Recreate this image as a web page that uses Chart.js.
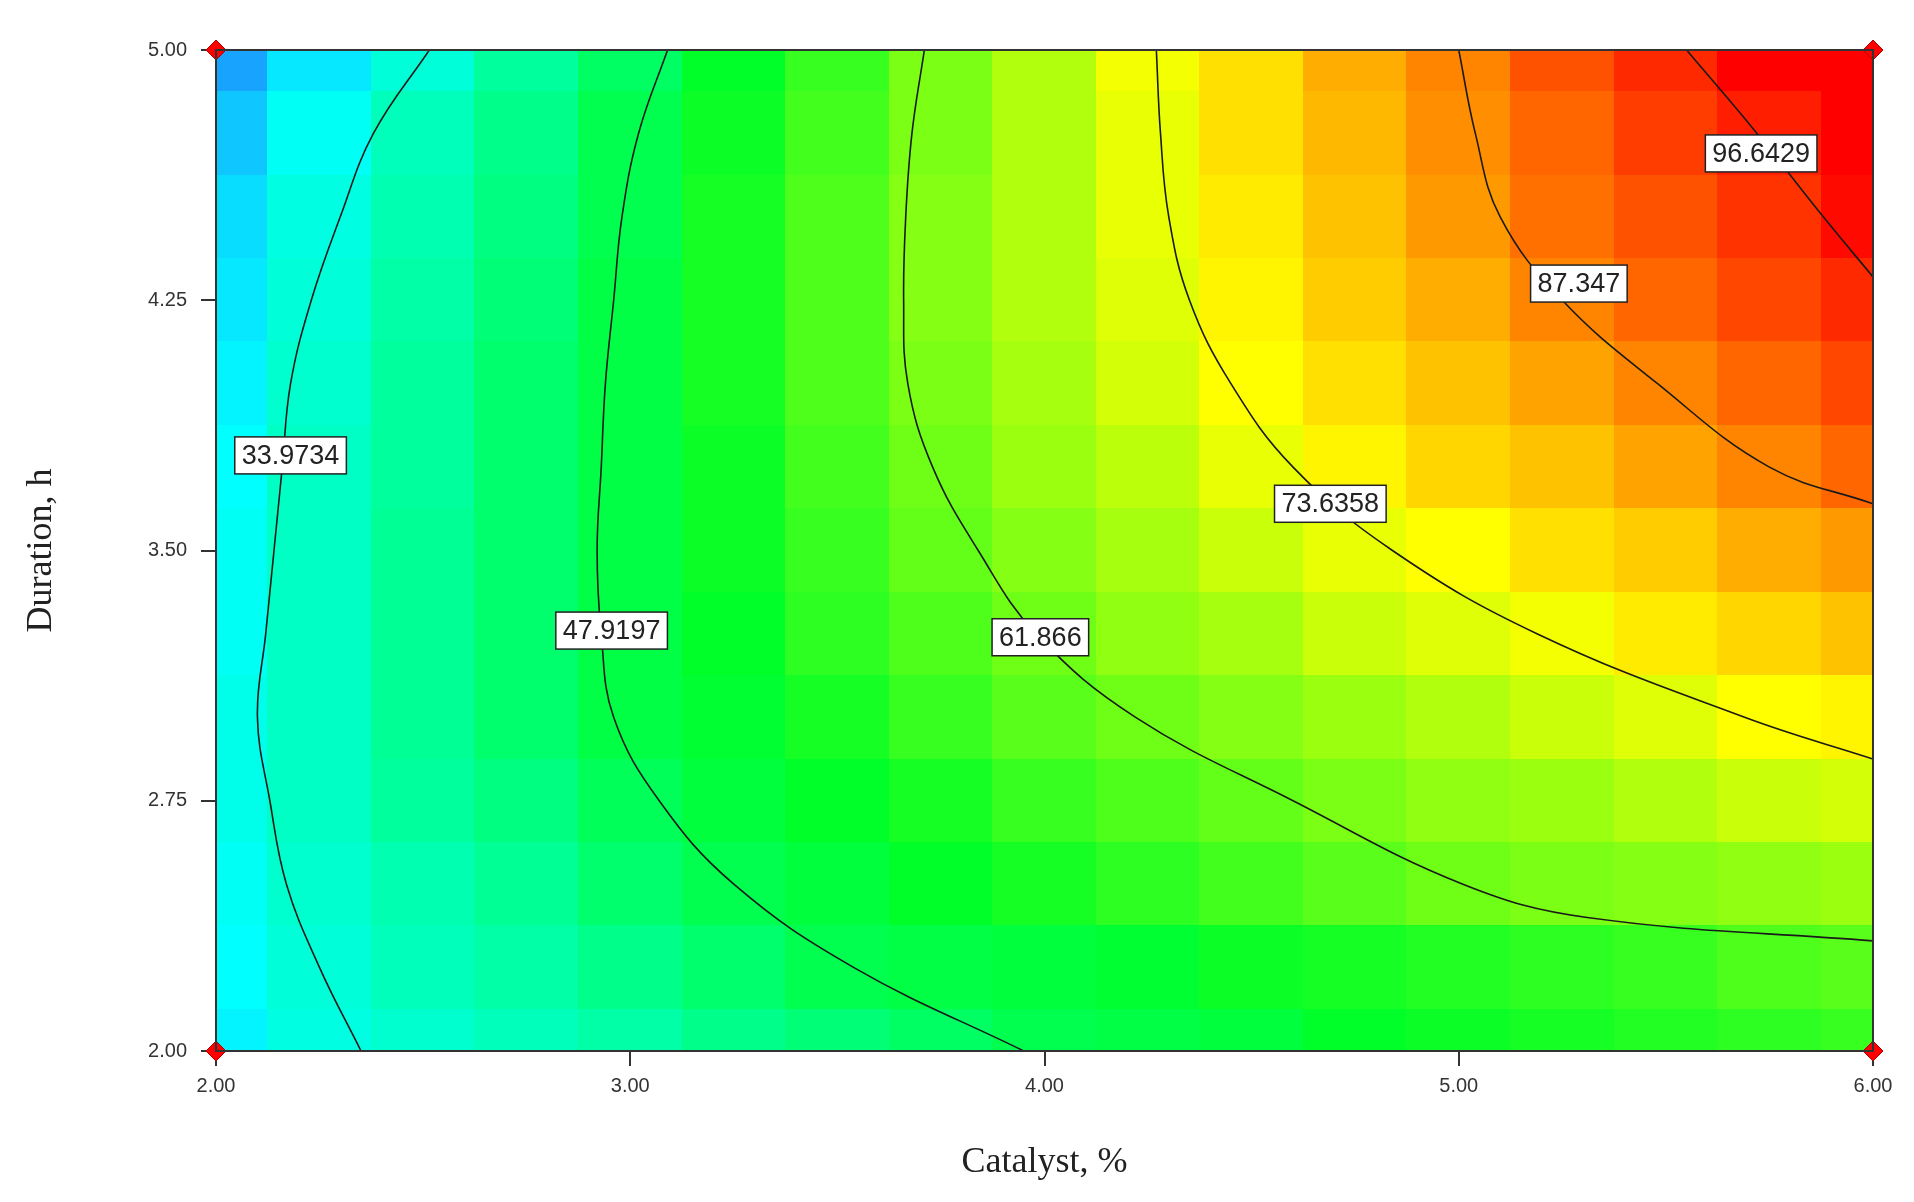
<!DOCTYPE html>
<html>
<head>
<meta charset="utf-8">
<script src="https://cdn.jsdelivr.net/npm/chart.js@4.4.1/dist/chart.umd.min.js"></script>
<style>
  html, body { margin: 0; padding: 0; background: #fff; }
  #wrap { width: 1914px; height: 1202px; }
</style>
</head>
<body>
<div id="wrap"><canvas id="grafico"></canvas></div>
<script>
// grid of response values (rows from Duration 5.00 down to 2.00)
const catalystGrid = [2, 2.25, 2.5, 2.75, 3, 3.25, 3.5, 3.75, 4, 4.25, 4.5, 4.75, 5, 5.25, 5.5, 5.75, 6];
const durationGrid = [5, 4.75, 4.5, 4.25, 4, 3.75, 3.5, 3.25, 3, 2.75, 2.5, 2.25, 2];
const response = [
  [22, 28, 34, 40, 46, 52, 57, 63, 68, 74, 78, 83, 87, 92, 96, 100, 104],
  [25, 31, 37, 42, 48, 53, 58, 63, 68, 73, 78, 82, 86, 90, 94, 97, 101],
  [27, 33, 38, 43, 48, 54, 59, 64, 68, 73, 77, 81, 85, 89, 92, 95, 99],
  [28, 34, 39, 44, 49, 54, 59, 64, 68, 72, 76, 80, 83, 87, 90, 93, 96],
  [29, 35, 40, 45, 49, 54, 59, 63, 67, 71, 75, 78, 81, 84, 87, 90, 93],
  [30, 36, 40, 45, 49, 53, 58, 62, 66, 69, 73, 76, 79, 81, 84, 87, 90],
  [31, 36, 41, 45, 49, 53, 57, 61, 64, 67, 70, 73, 75, 78, 80, 83, 85],
  [31, 36, 41, 45, 49, 52, 56, 59, 62, 65, 67, 70, 72, 74, 77, 79, 81],
  [32, 36, 41, 45, 49, 51, 54, 57, 60, 62, 64, 66, 68, 70, 72, 75, 76],
  [32, 36, 40, 43, 47, 50, 52, 54, 57, 59, 61, 63, 65, 66, 68, 70, 71],
  [31, 35, 38, 41, 45, 48, 50, 52, 54, 56, 58, 60, 62, 63, 64, 65, 66],
  [30, 34, 37, 39, 42, 45, 48, 49, 50, 51, 53, 54, 55, 56, 57, 59, 60],
  [29, 33, 35, 37, 39, 42, 44, 46, 48, 49, 50, 52, 53, 54, 55, 56, 57]
];

// contour lines (catalyst, duration)
const contourLevels = ["33.9734", "47.9197", "61.866", "73.6358", "87.347", "96.6429"];
const contourPaths = [
  [[2.515, 5], [2.38, 4.75], [2.30, 4.5], [2.23, 4.25], [2.18, 4], [2.16, 3.75], [2.14, 3.5], [2.12, 3.25], [2.10, 3], [2.13, 2.75], [2.17, 2.5], [2.25, 2.25], [2.35, 2]],
  [[3.09, 5], [3.02, 4.75], [2.98, 4.5], [2.96, 4.25], [2.94, 4], [2.93, 3.75], [2.92, 3.5], [2.93, 3.25], [2.96, 3], [3.07, 2.75], [3.25, 2.5], [3.54, 2.25], [3.95, 2]],
  [[3.71, 5], [3.68, 4.75], [3.665, 4.5], [3.66, 4.25], [3.67, 4], [3.73, 3.75], [3.84, 3.5], [3.98, 3.25], [4.22, 3], [4.60, 2.75], [5.01, 2.5], [5.31, 2.4], [6, 2.33]],
  [[4.27, 5], [4.28, 4.75], [4.30, 4.5], [4.35, 4.25], [4.45, 4], [4.60, 3.75], [4.84, 3.5], [5.19, 3.25], [5.69, 3], [6, 2.875]],
  [[5.00, 5], [5.04, 4.75], [5.10, 4.5], [5.25, 4.25], [5.48, 4], [5.75, 3.75], [6, 3.64]],
  [[5.55, 5], [5.72, 4.75], [5.88, 4.5], [6, 4.32]]
];
const labelPos = [[2.18, 3.785], [2.955, 3.26], [3.99, 3.24], [4.69, 3.64], [5.29, 4.30], [5.73, 4.69]];

const xTicks = [2, 3, 4, 5, 6];
const yTicks = [2, 2.75, 3.5, 4.25, 5];
const designPoints = [[2, 2], [2, 5], [6, 2], [6, 5]];

const colorStops = [
  [20, [30, 140, 255]],
  [30, [0, 255, 255]],
  [52, [0, 255, 40]],
  [75, [255, 255, 0]],
  [100, [255, 0, 0]]
];

function corDoValor(v) {
  if (v <= colorStops[0][0]) return `rgb(${colorStops[0][1].join(",")})`;
  for (let i = 1; i < colorStops.length; i++) {
    const [v1, c1] = colorStops[i];
    const [v0, c0] = colorStops[i - 1];
    if (v <= v1) {
      const t = (v - v0) / (v1 - v0);
      const c = c0.map((a, k) => Math.round(a + (c1[k] - a) * t));
      return `rgb(${c.join(",")})`;
    }
  }
  return `rgb(${colorStops[colorStops.length - 1][1].join(",")})`;
}

const mapaCores = {
  id: "mapaCores",
  beforeDatasetsDraw(chart) {
    const { ctx, scales: { x, y }, chartArea: a } = chart;
    ctx.save();
    ctx.beginPath();
    ctx.rect(a.left, a.top, a.right - a.left, a.bottom - a.top);
    ctx.clip();
    durationGrid.forEach((d, j) => {
      catalystGrid.forEach((c, i) => {
        const x0 = x.getPixelForValue(c - 0.125), x1 = x.getPixelForValue(c + 0.125);
        const y0 = y.getPixelForValue(d + 0.125), y1 = y.getPixelForValue(d - 0.125);
        ctx.fillStyle = corDoValor(response[j][i]);
        ctx.fillRect(Math.floor(x0), Math.floor(y0), Math.ceil(x1 - x0) + 1, Math.ceil(y1 - y0) + 1);
      });
    });
    ctx.restore();
  },
  afterDatasetsDraw(chart) {
    const { ctx, scales: { x, y }, chartArea: a } = chart;
    ctx.save();
    ctx.strokeStyle = "#333";
    ctx.lineWidth = 2;
    ctx.strokeRect(a.left, a.top, a.right - a.left, a.bottom - a.top);
    ctx.font = "27px 'Liberation Sans', Arial";
    ctx.textAlign = "center";
    ctx.textBaseline = "middle";
    contourLevels.forEach((txt, i) => {
      const px = x.getPixelForValue(labelPos[i][0]);
      const py = y.getPixelForValue(labelPos[i][1]);
      const w = ctx.measureText(txt).width + 14;
      const h = 37;
      ctx.fillStyle = "#fff";
      ctx.fillRect(px - w / 2, py - h / 2, w, h);
      ctx.strokeStyle = "#222";
      ctx.lineWidth = 1.5;
      ctx.strokeRect(px - w / 2, py - h / 2, w, h);
      ctx.fillStyle = "#222";
      ctx.fillText(txt, px, py + 1);
    });
    ctx.restore();
  }
};

const datasets = contourPaths.map((p, i) => ({
  label: contourLevels[i],
  data: p.map(([c, d]) => ({ x: c, y: d })),
  showLine: true,
  borderColor: "#1a1a1a",
  borderWidth: 1.6,
  pointRadius: 0,
  tension: 0.4,
  fill: false
}));
datasets.push({
  label: "design",
  data: designPoints.map(([c, d]) => ({ x: c, y: d })),
  showLine: false,
  pointStyle: "rectRot",
  pointRadius: 10,
  backgroundColor: "#ff0000",
  borderColor: "#b00000",
  borderWidth: 1,
  clip: false
});

new Chart(document.getElementById("grafico"), {
  type: "scatter",
  data: { datasets },
  plugins: [mapaCores],
  options: {
    responsive: true,
    maintainAspectRatio: false,
    animation: false,
    layout: { padding: { top: 50, right: 41, left: 0, bottom: 0 } },
    plugins: { legend: { display: false }, tooltip: { enabled: false } },
    scales: {
      x: {
        type: "linear", min: 2, max: 6,
        afterBuildTicks: s => { s.ticks = xTicks.map(v => ({ value: v })); },
        afterFit: s => { s.height = 151; },
        border: { display: false },
        grid: { drawOnChartArea: false, tickLength: 15, color: "#333", lineWidth: 2 },
        ticks: { color: "#333", font: { size: 20, family: "'Liberation Sans', Arial" }, callback: v => v.toFixed(2), padding: 8 },
        title: { display: true, text: "Catalyst, %", color: "#222", font: { size: 36, family: "'Liberation Serif', 'Times New Roman'" }, padding: { top: 10, bottom: 18 } }
      },
      y: {
        type: "linear", min: 2, max: 5,
        afterBuildTicks: s => { s.ticks = yTicks.map(v => ({ value: v })); },
        afterFit: s => { s.width = 216; },
        border: { display: false },
        grid: { drawOnChartArea: false, tickLength: 15, color: "#333", lineWidth: 2 },
        ticks: { color: "#333", font: { size: 20, family: "'Liberation Sans', Arial" }, callback: v => v.toFixed(2), padding: 14 },
        title: { display: true, text: "Duration, h", color: "#222", font: { size: 36, family: "'Liberation Serif', 'Times New Roman'" }, padding: { top: 20, bottom: 0 } }
      }
    }
  }
});
</script>
</body>
</html>
